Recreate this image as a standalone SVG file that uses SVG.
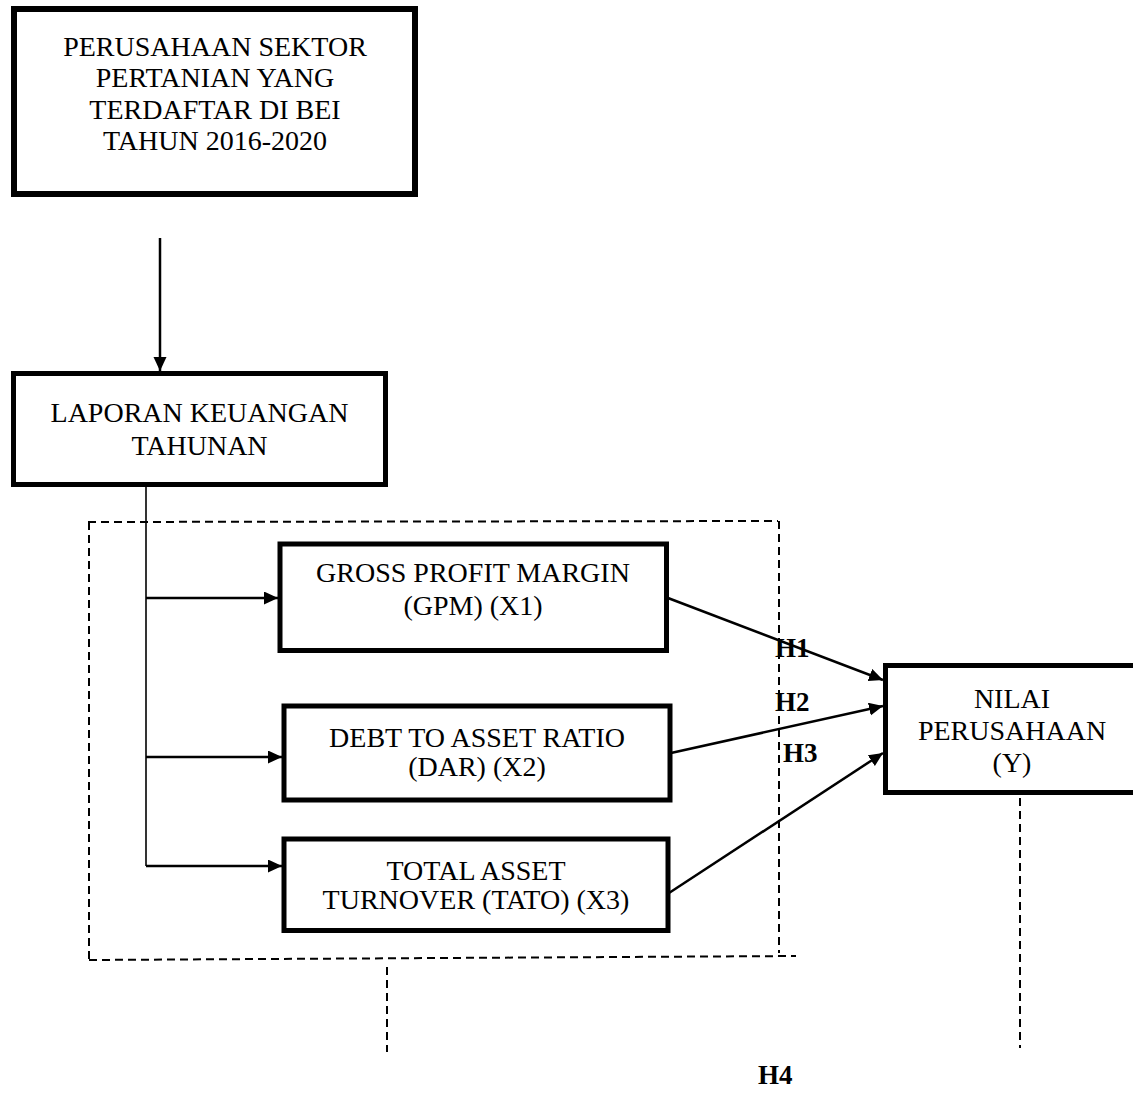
<svg xmlns="http://www.w3.org/2000/svg" width="1133" height="1117" viewBox="0 0 1133 1117">
<style>
.box{fill:#fff;stroke:#000;stroke-width:5}
.t{font-family:"Liberation Serif","Times New Roman",serif;font-size:28px;fill:#000;text-anchor:middle}
.h{font-family:"Liberation Serif","Times New Roman",serif;font-size:27px;font-weight:bold;fill:#000}
.ln{fill:none;stroke:#000;stroke-width:2.5}
.thin{fill:none;stroke:#000;stroke-width:1.6}
.dash{fill:none;stroke:#000;stroke-width:2;stroke-dasharray:8 5}
</style>
<defs>
<marker id="arr" markerUnits="userSpaceOnUse" markerWidth="16" markerHeight="14" refX="14" refY="6.5" orient="auto">
<path d="M0,0 L14,6.5 L0,13 z" fill="#000"/>
</marker>
</defs>
<rect width="1133" height="1117" fill="#fff"/>
<g id="dashed-frame">
<path class="dash" d="M88,522 L778,521"/>
<path class="dash" d="M89,522 L89,960"/>
<path class="dash" d="M779,521 L779,953"/>
<path class="dash" d="M89,960 L796,956"/>
<path class="dash" d="M387,967 L387,1052"/>
<path class="dash" d="M1020,798 L1020,1048"/>
</g>
<g id="connectors">
<path class="ln" d="M160,238 L160,371" marker-end="url(#arr)"/>
<path class="thin" d="M146,487 L146,866"/>
<path class="ln" d="M146,598 L278,598" marker-end="url(#arr)"/>
<path class="ln" d="M146,757 L282,757" marker-end="url(#arr)"/>
<path class="ln" d="M146,866 L282,866" marker-end="url(#arr)"/>
<path class="ln" d="M668,598 L883,680" marker-end="url(#arr)"/>
<path class="ln" d="M671,753 L883,706" marker-end="url(#arr)"/>
<path class="ln" d="M669,893 L883,753" marker-end="url(#arr)"/>
</g>
<g id="node-perusahaan">
<rect class="box" x="14" y="9" width="401" height="185" style="stroke-width:6"/>
<text class="t" x="215" y="56">PERUSAHAAN SEKTOR</text>
<text class="t" x="215" y="87">PERTANIAN YANG</text>
<text class="t" x="215" y="119">TERDAFTAR DI BEI</text>
<text class="t" x="215" y="150">TAHUN 2016-2020</text>
</g>
<g id="node-laporan">
<rect class="box" x="13.5" y="373.5" width="372" height="111"/>
<text class="t" x="199.5" y="422">LAPORAN KEUANGAN</text>
<text class="t" x="199.5" y="455">TAHUNAN</text>
</g>
<g id="node-gpm">
<rect class="box" x="280" y="544" width="386.5" height="106.5"/>
<text class="t" x="473" y="582">GROSS PROFIT MARGIN</text>
<text class="t" x="473" y="615">(GPM) (X1)</text>
</g>
<g id="node-dar">
<rect class="box" x="284" y="706" width="386" height="94"/>
<text class="t" x="477" y="747">DEBT TO ASSET RATIO</text>
<text class="t" x="477" y="776">(DAR) (X2)</text>
</g>
<g id="node-tato">
<rect class="box" x="284" y="839" width="384" height="91.5"/>
<text class="t" x="476" y="880">TOTAL ASSET</text>
<text class="t" x="476" y="909">TURNOVER (TATO) (X3)</text>
</g>
<g id="node-nilai">
<rect class="box" x="885.5" y="665.5" width="260" height="127"/>
<text class="t" x="1012" y="708">NILAI</text>
<text class="t" x="1012" y="740">PERUSAHAAN</text>
<text class="t" x="1012" y="772">(Y)</text>
</g>
<g id="labels">
<text class="h" x="775" y="657">H1</text>
<text class="h" x="775" y="711">H2</text>
<text class="h" x="783" y="762">H3</text>
<text class="h" x="758" y="1084">H4</text>
</g>
</svg>
